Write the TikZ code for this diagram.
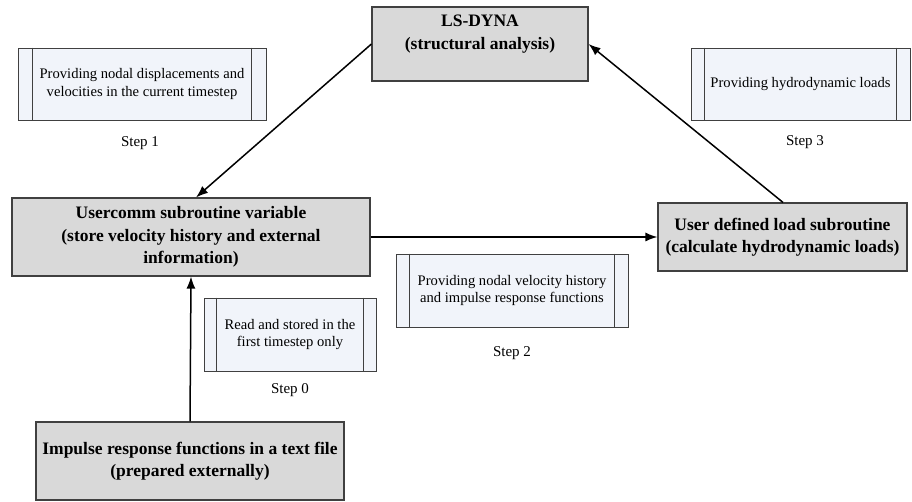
\documentclass[tikz,border=0pt]{standalone}
\usepackage{fontspec}
\setmainfont{Liberation Serif}
\usetikzlibrary{arrows.meta,shadows}
\definecolor{boxgray}{HTML}{D9D9D9}
\definecolor{edgegray}{HTML}{404040}
\definecolor{procfill}{HTML}{F1F4FA}
\begin{document}
\begin{tikzpicture}[x=1pt,y=-1pt,
  mainbox/.style={draw=edgegray,line width=1.1pt,fill=boxgray,align=center,
    font=\fontsize{17.5}{22.5}\selectfont\bfseries,inner sep=0pt,
    drop shadow={shadow xshift=0.8pt,shadow yshift=-1.2pt,opacity=0.25}},
  maintext/.style={align=center,font=\fontsize{17.5}{22.5}\selectfont\bfseries,inner sep=0pt},
  procbox/.style={draw=edgegray,line width=0.8pt,fill=procfill,align=center,
    font=\fontsize{14.6}{17.5}\selectfont,inner sep=0pt},
  steplabel/.style={font=\fontsize{15}{17}\selectfont},
  flow/.style={line width=1.5pt,-{Latex[length=12pt,width=9pt]}}]
\useasboundingbox (0,0) rectangle (912,502);

% main boxes
\node[mainbox,minimum width=216pt,minimum height=74pt] (lsdyna) at (480,44) {};
\node[maintext] (lstext) at (480,34) {LS-DYNA\\(structural analysis)};
\node[mainbox,minimum width=358pt,minimum height=78pt] (usercomm) at (191,237)
  {Usercomm subroutine variable\\(store velocity history and external\\information)};
\node[mainbox,minimum width=249pt,minimum height=68pt] (userdef) at (782.5,237)
  {User defined load subroutine\\(calculate hydrodynamic loads)};
\node[mainbox,minimum width=308pt,minimum height=78pt] (impulse) at (190,461)
  {Impulse response functions in a text file\\(prepared externally)};

% process boxes
\newcommand{\procsides}[2]{%
  \draw[edgegray,line width=0.8pt] ([xshift=#2]#1.north west) -- ([xshift=#2]#1.south west);
  \draw[edgegray,line width=0.8pt] ([xshift=-#2]#1.north east) -- ([xshift=-#2]#1.south east);}
\node[procbox,minimum width=248pt,minimum height=72pt] (p1) at (142,84)
  {Providing nodal displacements and\\velocities in the current timestep};
\procsides{p1}{15pt}
\node[procbox,minimum width=219pt,minimum height=72pt] (p3) at (800.5,84)
  {Providing hydrodynamic loads};
\procsides{p3}{14pt}
\node[procbox,minimum width=232pt,minimum height=73pt] (p2) at (512,290.5)
  {Providing nodal velocity history\\and impulse response functions};
\procsides{p2}{14pt}
\node[procbox,minimum width=172pt,minimum height=73pt] (p0) at (290,334.5)
  {Read and stored in the\\first timestep only};
\procsides{p0}{13pt}

% step labels
\node[steplabel] (s1) at (140,143) {Step 1};
\node[steplabel] (s3) at (805,142) {Step 3};
\node[steplabel] (s2) at (512,353) {Step 2};
\node[steplabel] (s0) at (290,390) {Step 0};

% connectors
\draw[flow] (lsdyna.west) -- ([xshift=5pt]usercomm.north);
\draw[flow] (usercomm.east) -- (userdef.west);
\draw[flow] (impulse.north) -- (usercomm.south);
\draw[flow] ([xshift=0.5pt]userdef.north) -- (lsdyna.east);
\end{tikzpicture}
\end{document}
